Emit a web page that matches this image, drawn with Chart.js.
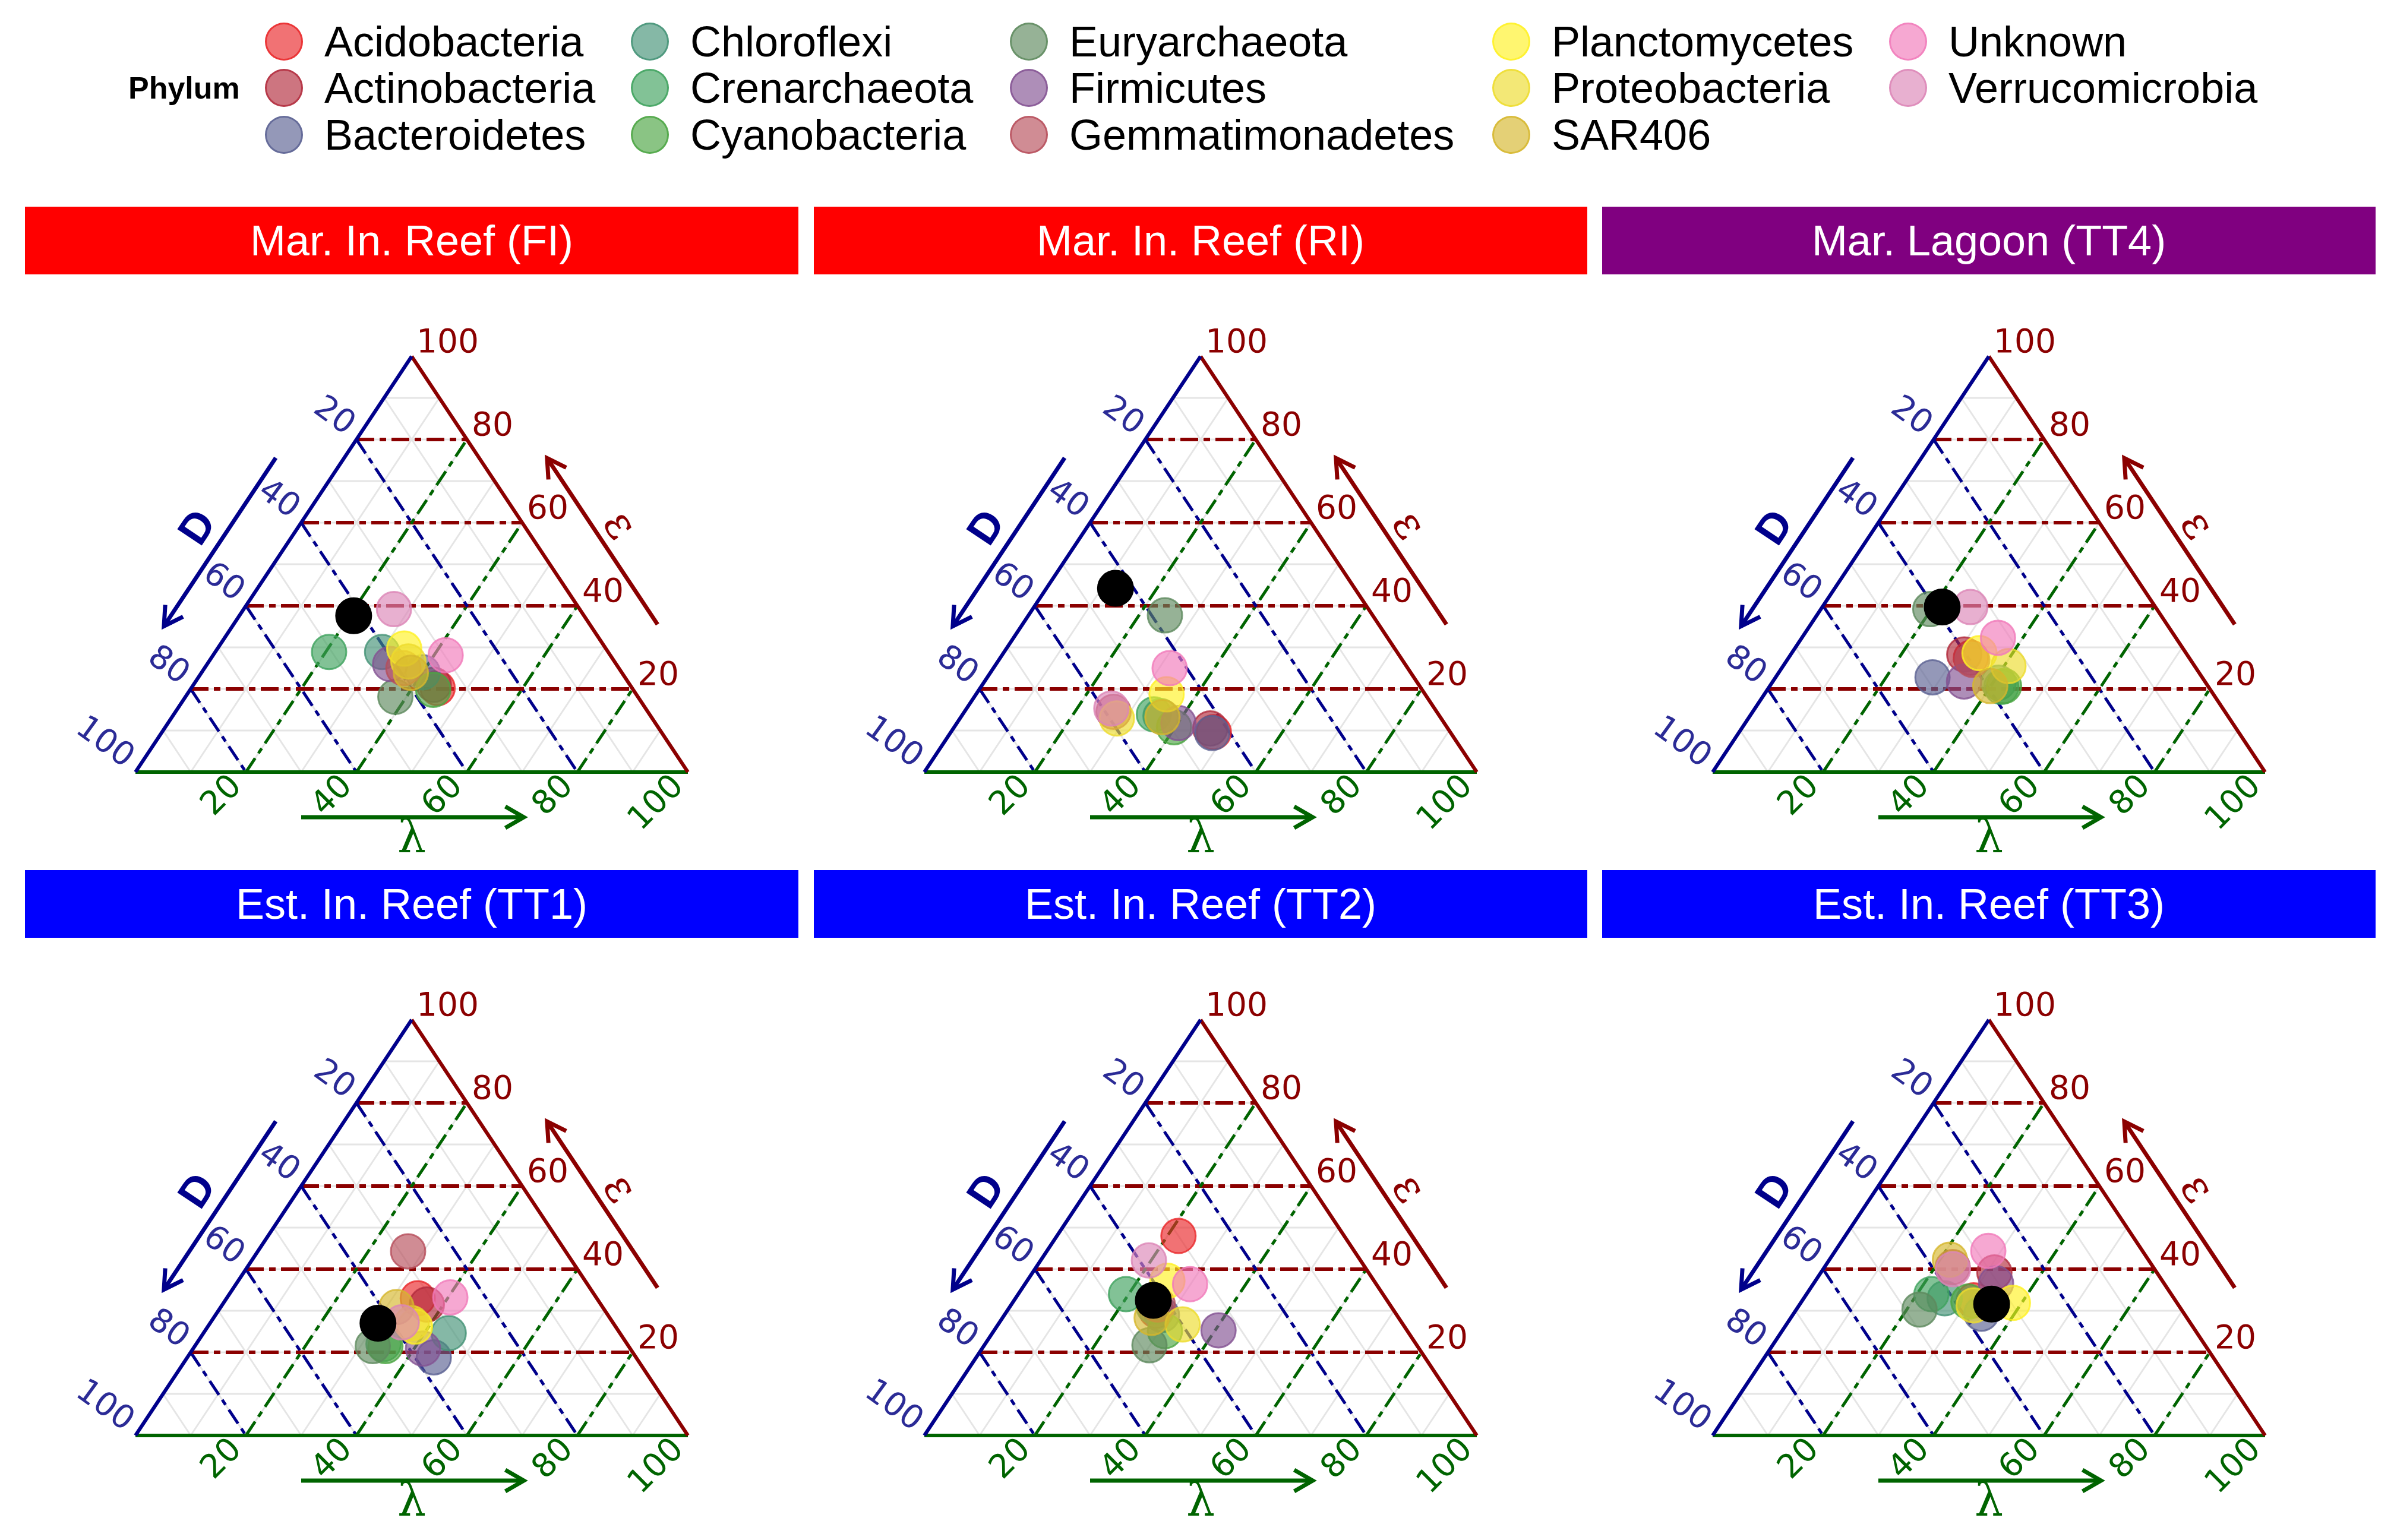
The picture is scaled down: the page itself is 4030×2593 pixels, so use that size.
<!DOCTYPE html>
<html>
<head>
<meta charset="utf-8">
<script src="https://cdn.jsdelivr.net/npm/chart.js@4.4.1/dist/chart.umd.min.js"></script>
<style>
  html, body { margin: 0; padding: 0; background: #fff; }
  body { width: 4030px; height: 2593px; position: relative; overflow: hidden; font-family: "Liberation Sans", Arial, sans-serif; }
  .strip { position: absolute; color: #fff; font-size: 72px; display: flex; align-items: center; justify-content: center; }
  canvas { position: absolute; }
  .leg-dot { position: absolute; width: 64px; height: 64px; border-radius: 50%; box-sizing: border-box; border-width: 3px; border-style: solid; }
  .leg-txt { position: absolute; font-size: 72px; line-height: 80px; white-space: nowrap; color: #000; }
  #phylum { position: absolute; left: 216px; top: 118px; font-weight: bold; font-size: 52px; line-height: 60px; }
</style>
</head>
<body>
<div id="phylum">Phylum</div>
<script>
// --- Data: ternary composition (D, λ, ε) per phylum and site ---
const phyla = ['Acidobacteria', 'Actinobacteria', 'Bacteroidetes', 'Chloroflexi', 'Crenarchaeota',
  'Cyanobacteria', 'Euryarchaeota', 'Firmicutes', 'Gemmatimonadetes', 'Planctomycetes',
  'Proteobacteria', 'SAR406', 'Unknown', 'Verrucomicrobia'];
const sites = ['Mar. In. Reef (FI)', 'Mar. In. Reef (RI)', 'Mar. Lagoon (TT4)',
  'Est. In. Reef (TT1)', 'Est. In. Reef (TT2)', 'Est. In. Reef (TT3)'];
const tickValues = [20, 40, 60, 80, 100];
const majorGrid = [20, 40, 60, 80];
const minorGrid = [10, 20, 30, 40, 50, 60, 70, 80, 90];

const fiD      = [35.2, 35.5, 36.0, 40.9, 50.5, 36.2, 43.9, 40.9, 39.0, 36.5, 37.3, 38.2, 29.8, 33.6];
const fiLambda = [44.6, 43.5, 40.0, 30.2, 20.6, 44.0, 38.0, 33.1, 36.0, 33.8, 36.1, 37.9, 42.1, 27.2];
const fiEps    = [20.2, 21.0, 24.0, 28.9, 28.9, 19.8, 18.1, 26.0, 25.0, 29.7, 26.6, 23.9, 28.1, 39.2];

const riD      = [42.8, 43.0, 43.2, 50.5, 51.5, 49.4, 37.6, 48.1, 58.5, 46.8, 58.7, 50.3, 43.1, 58.5];
const riLambda = [47.6, 46.5, 47.4, 36.0, 34.6, 39.8, 24.7, 40.1, 27.0, 34.5, 28.4, 36.5, 31.9, 26.2];
const riEps    = [9.6, 10.5, 9.4, 13.5, 13.9, 10.8, 37.7, 11.8, 14.5, 18.7, 12.9, 13.2, 25.0, 15.3];

const tt4D      = [39.5, 40.3, 48.8, 37.5, 37.5, 36.9, 41.0, 43.6, 39.5, 37.4, 33.7, 39.4, 32.2, 33.5];
const tt4Lambda = [33.0, 31.4, 28.4, 41.0, 42.0, 42.4, 19.8, 34.6, 33.5, 34.0, 40.8, 39.9, 35.5, 26.8];
const tt4Eps    = [27.5, 28.3, 22.8, 21.5, 20.5, 20.7, 39.2, 21.8, 27.0, 28.6, 25.5, 20.7, 32.3, 39.7];

const tt1D      = [32.4, 31.5, 36.6, 31.0, 44.1, 44.0, 46.3, 37.5, 28.5, 36.3, 36.5, 37.3, 26.4, 38.2];
const tt1Lambda = [34.6, 37.0, 44.6, 44.4, 33.9, 34.5, 32.2, 41.6, 27.2, 37.5, 36.5, 31.8, 40.4, 34.6];
const tt1Eps    = [33.0, 31.5, 18.8, 24.6, 22.0, 21.5, 21.5, 20.9, 44.3, 26.2, 27.0, 30.9, 33.2, 27.2];

const tt2D      = [30.0, 43.0, 42.5, 43.0, 46.5, 43.9, 48.4, 34.1, 42.0, 37.4, 39.9, 44.7, 33.7, 38.3];
const tt2Lambda = [22.0, 27.0, 28.5, 26.0, 19.5, 31.0, 29.9, 40.6, 26.5, 25.4, 33.4, 27.0, 29.9, 19.6];
const tt2Eps    = [48.0, 30.0, 29.0, 31.0, 34.0, 25.1, 21.7, 25.3, 31.5, 37.2, 26.7, 28.3, 36.4, 42.1];

const tt3D      = [36.5, 29.4, 36.7, 41.5, 43.4, 37.6, 47.4, 30.4, 36.3, 29.7, 37.1, 35.9, 27.9, 36.5];
const tt3Lambda = [31.0, 31.4, 34.0, 25.5, 22.6, 30.2, 22.3, 33.0, 23.2, 38.4, 31.6, 21.8, 27.7, 23.5];
const tt3Eps    = [32.5, 39.2, 29.3, 33.0, 34.0, 32.2, 30.3, 36.6, 40.5, 31.9, 31.3, 42.3, 44.4, 40.0];

// whole community (black point), one per site
const allD      = [41.7, 43.3, 38.6, 42.6, 42.3, 33.7];
const allLambda = [20.7, 12.5, 21.7, 30.4, 25.2, 34.7];
const allEps    = [37.6, 44.2, 39.7, 27.0, 32.5, 31.6];

// --- Styles ---
const phylumRGB = ['234,39,41', '178,43,60', '91,97,146', '67,146,118', '63,162,94', '75,165,66',
  '94,137,94', '131,82,146', '183,78,91', '255,241,35', '237,220,45', '214,183,45', '241,122,186', '220,134,183'];
const stripColors = ['#FF0000', '#FF0000', '#800080', '#0000FF', '#0000FF', '#0000FF'];
const colD = '#00008B', colL = '#006400', colE = '#8B0000', colDTick = '#2B2B96';

const siteData = [
  [fiD, fiLambda, fiEps], [riD, riLambda, riEps], [tt4D, tt4Lambda, tt4Eps],
  [tt1D, tt1Lambda, tt1Eps], [tt2D, tt2Lambda, tt2Eps], [tt3D, tt3Lambda, tt3Eps]
];

// ternary -> cartesian (x along base 0..100, y = height 0..100)
const toXY = (d, l, e) => {
  const s = d + l + e;
  return { x: (l + e / 2) / s * 100, y: e / s * 100 };
};

// --- Legend ---
const legX = [478, 1094, 1732, 2544, 3212];
const legY = [70, 148, 227];
phyla.forEach((name, i) => {
  const cx = legX[Math.floor(i / 3)], cy = legY[i % 3];
  const dot = document.createElement('div');
  dot.className = 'leg-dot';
  dot.style.left = (cx - 32) + 'px';
  dot.style.top = (cy - 32) + 'px';
  dot.style.background = 'rgba(' + phylumRGB[i] + ',0.65)';
  dot.style.borderColor = 'rgba(' + phylumRGB[i] + ',0.8)';
  document.body.appendChild(dot);
  const txt = document.createElement('div');
  txt.className = 'leg-txt';
  txt.textContent = name;
  txt.style.left = (cx + 68) + 'px';
  txt.style.top = (cy - 40) + 'px';
  document.body.appendChild(txt);
});

// --- Decorations: tick labels, arrows, axis titles ---
function outward(P, Q, R) {
  const dx = Q[0] - P[0], dy = Q[1] - P[1], len = Math.hypot(dx, dy);
  let nx = dy / len, ny = -dx / len;
  const mx = (P[0] + Q[0]) / 2, my = (P[1] + Q[1]) / 2;
  if ((R[0] - mx) * nx + (R[1] - my) * ny > 0) { nx = -nx; ny = -ny; }
  return [nx, ny];
}
function along(P, Q, f, n, off) {
  return [P[0] + (Q[0] - P[0]) * f + n[0] * off, P[1] + (Q[1] - P[1]) * f + n[1] * off];
}
function drawArrow(ctx, from, to, color) {
  ctx.strokeStyle = color;
  ctx.lineWidth = 7;
  ctx.lineJoin = 'miter';
  ctx.beginPath(); ctx.moveTo(from[0], from[1]); ctx.lineTo(to[0], to[1]); ctx.stroke();
  const a = Math.atan2(to[1] - from[1], to[0] - from[0]), h = 36, s = Math.PI / 6;
  ctx.beginPath();
  ctx.moveTo(to[0] - h * Math.cos(a - s), to[1] - h * Math.sin(a - s));
  ctx.lineTo(to[0], to[1]);
  ctx.lineTo(to[0] - h * Math.cos(a + s), to[1] - h * Math.sin(a + s));
  ctx.stroke();
}

const ternaryDecor = {
  id: 'ternaryDecor',
  afterDraw(chart) {
    const { ctx, scales: { x, y } } = chart;
    const px = (d, l, e) => { const p = toXY(d, l, e); return [x.getPixelForValue(p.x), y.getPixelForValue(p.y)]; };
    const A = px(100, 0, 0), B = px(0, 100, 0), C = px(0, 0, 100);
    const nLeft = outward(C, A, B), nRight = outward(C, B, A), nBottom = outward(A, B, C);
    const angD = 36 * Math.PI / 180;
    const angL = -45 * Math.PI / 180;

    ctx.save();
    ctx.font = '55px "DejaVu Sans"';
    ctx.textBaseline = 'middle';
    tickValues.forEach(v => {
      // epsilon on right edge
      let q = px(0, 100 - v, v);
      ctx.fillStyle = colE; ctx.textAlign = 'left';
      ctx.fillText(String(v), q[0] + 8, q[1] - 21);
      // D on left edge
      q = px(v, 0, 100 - v);
      ctx.save();
      ctx.translate(q[0] - 10, q[1] - 18);
      ctx.rotate(angD);
      ctx.fillStyle = colDTick; ctx.textAlign = 'right';
      ctx.fillText(String(v), 0, 0);
      ctx.restore();
      // lambda on bottom edge
      q = px(100 - v, v, 0);
      ctx.save();
      ctx.translate(q[0] - 15, q[1] + 16);
      ctx.rotate(angL);
      ctx.fillStyle = colL; ctx.textAlign = 'right';
      ctx.fillText(String(v), 0, 0);
      ctx.restore();
    });

    // arrows
    drawArrow(ctx, along(C, A, 0.32, nLeft, 96), along(C, A, 0.725, nLeft, 96), colD);
    drawArrow(ctx, along(C, B, 0.72, nRight, 95), along(C, B, 0.32, nRight, 95), colE);
    drawArrow(ctx, along(A, B, 0.30, nBottom, 76), along(A, B, 0.703, nBottom, 76), colL);

    // axis titles
    ctx.textAlign = 'center';
    let p = along(C, A, 0.523, nLeft, 138);
    ctx.save(); ctx.translate(p[0], p[1]); ctx.rotate(Math.atan2(C[1] - A[1], C[0] - A[0]));
    ctx.fillStyle = colD; ctx.font = 'bold 72px "Liberation Sans"'; ctx.fillText('D', 0, 0); ctx.restore();
    p = along(C, B, 0.512, nRight, 131);
    ctx.save(); ctx.translate(p[0], p[1]); ctx.rotate(Math.atan2(B[1] - C[1], B[0] - C[0]));
    ctx.fillStyle = colE; ctx.font = '76px "DejaVu Serif"'; ctx.fillText('ε', 0, 0); ctx.restore();
    p = along(A, B, 0.5, nBottom, 114);
    ctx.fillStyle = colL; ctx.font = '76px "DejaVu Serif"'; ctx.fillText('λ', p[0], p[1]);
    ctx.restore();
  }
};

// --- Build one ternary chart per site ---
const lineSet = (pts, color, width, dash, order) => ({
  type: 'scatter', data: pts, showLine: true, borderColor: color, borderWidth: width,
  borderDash: dash, pointRadius: 0, pointHoverRadius: 0, fill: false, clip: false, order: order
});

const panelLeft = [42, 1370, 2697];
const stripTop = [348, 1465];
const canvasTop = [470, 1587];

sites.forEach((site, k) => {
  const col = k % 3, row = Math.floor(k / 3);
  const strip = document.createElement('div');
  strip.className = 'strip';
  strip.style.left = panelLeft[col] + 'px';
  strip.style.top = stripTop[row] + 'px';
  strip.style.width = '1302px';
  strip.style.height = '114px';
  strip.style.background = stripColors[k];
  strip.textContent = site;
  document.body.appendChild(strip);

  const canvas = document.createElement('canvas');
  canvas.width = 1302; canvas.height = 1000;
  canvas.style.left = panelLeft[col] + 'px';
  canvas.style.top = canvasTop[row] + 'px';
  document.body.appendChild(canvas);

  const datasets = [];
  // minor grid
  minorGrid.forEach(v => {
    datasets.push(lineSet([toXY(100 - v, 0, v), toXY(0, 100 - v, v)], '#E5E5E5', 3, [], 60));
    datasets.push(lineSet([toXY(v, 0, 100 - v), toXY(v, 100 - v, 0)], '#E5E5E5', 3, [], 60));
    datasets.push(lineSet([toXY(100 - v, v, 0), toXY(0, v, 100 - v)], '#E5E5E5', 3, [], 60));
  });
  // major grid
  majorGrid.forEach(v => {
    datasets.push(lineSet([toXY(100 - v, 0, v), toXY(0, 100 - v, v)], colE, 6, [30, 9, 11, 9], 50));
    datasets.push(lineSet([toXY(v, 0, 100 - v), toXY(v, 100 - v, 0)], colD, 5, [28, 10, 10, 10], 50));
    datasets.push(lineSet([toXY(100 - v, v, 0), toXY(0, v, 100 - v)], colL, 5, [28, 10, 10, 10], 50));
  });
  // triangle edges
  datasets.push(lineSet([toXY(100, 0, 0), toXY(0, 0, 100)], colD, 6, [], 40));
  datasets.push(lineSet([toXY(0, 0, 100), toXY(0, 100, 0)], colE, 6, [], 40));
  datasets.push(lineSet([toXY(100, 0, 0), toXY(0, 100, 0)], colL, 6, [], 40));

  const [dArr, lArr, eArr] = siteData[k];
  phyla.forEach((name, i) => {
    datasets.push({
      label: name,
      data: [toXY(dArr[i], lArr[i], eArr[i])],
      pointRadius: 29, pointHoverRadius: 29, borderWidth: 3,
      backgroundColor: 'rgba(' + phylumRGB[i] + ',0.65)',
      borderColor: 'rgba(' + phylumRGB[i] + ',0.8)',
      clip: false, order: 30 - i
    });
  });
  datasets.push({
    label: 'All',
    data: [toXY(allD[k], allLambda[k], allEps[k])],
    pointRadius: 30, pointHoverRadius: 30, borderWidth: 2,
    backgroundColor: '#000', borderColor: '#000', clip: false, order: 0
  });

  new Chart(canvas.getContext('2d'), {
    type: 'scatter',
    data: { datasets: datasets },
    options: {
      responsive: false,
      animation: false,
      devicePixelRatio: 1,
      layout: { padding: { left: 186, right: 186, top: 130, bottom: 170 } },
      scales: {
        x: { type: 'linear', min: 0, max: 100, display: false },
        y: { type: 'linear', min: 0, max: 100, display: false }
      },
      plugins: { legend: { display: false }, tooltip: { enabled: false } },
      events: []
    },
    plugins: [ternaryDecor]
  });
});
</script>
</body>
</html>
